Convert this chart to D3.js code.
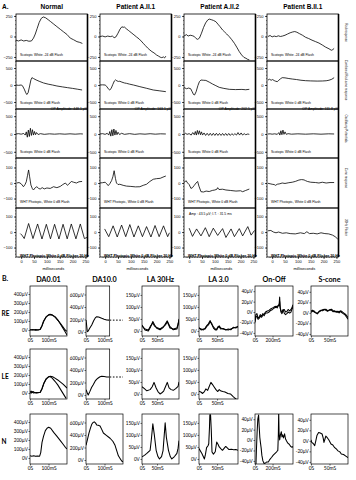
<!DOCTYPE html>
<html><head><meta charset="utf-8">
<script src="https://cdn.jsdelivr.net/npm/d3@7"></script>
<style>body{margin:0;background:#fff}</style>
</head><body>
<script>
// ---------------- DATA: Part A (full-field ERG, time in ms, amplitude in µV) ----------------
const aColumns = ["Normal", "Patient A.II.1", "Patient A.II.2", "Patient B.II.1"];
const aRowNames = ["Rod response", "Combined Rod-cone response", "Oscillatory Potentials", "Cone response", "30Hz Flicker"];
const aRowNotes = ["Scotopic  White -24 dB Flash", "Scotopic  White 0 dB Flash", "Scotopic  White 0 dB Flash", "WHT Photopic,  White 0 dB Flash", "WHT Photopic  White 0 dB Flicker 30 Hz"];
const opAmplitudes = ["OP Amplitude: 448.1 µV", "OP Amplitude: 163.1 µV", "OP Amplitude: 202.5 µV", "OP Amplitude: 111.8 µV"];
const flickerNote = "Amp : 43.5 µV; I.T. : 31.5 ms";
const aTimeTicks = [0, 50, 100, 150, 200, 250];
const aYTicks = [[-250, 0, 250], [-500, 0, 500], [-500, 0, 500], [-100, 0, 100], [-100, 0, 100]];

const rodNormal = [[-20,-45],[-10,-55],[0,-42],[10,-55],[20,-48],[30,-58],[40,-55],[48,-20],[55,30],[62,95],[70,170],[78,220],[86,238],[95,228],[105,205],[115,180],[127,150],[139,120],[152,88],[165,56],[178,25],[191,-20],[204,-40],[217,-63],[228,-72],[238,-85]];
const rodA21 = [[-20,0],[-10,5],[0,-5],[10,5],[20,-2],[28,5],[35,-15],[42,-5],[50,40],[58,90],[65,118],[70,112],[75,115],[82,95],[90,75],[96,60],[104,40],[112,20],[122,-6],[132,-30],[140,-55],[148,-83],[156,-110],[165,-140],[174,-165],[182,-185],[190,-200],[200,-226],[208,-240],[214,-252],[220,-258],[227,-250],[231,-262],[236,-240]];
const rodA22 = [[-26,18],[-18,10],[-10,22],[-4,5],[4,15],[12,10],[20,0],[27,-25],[33,-35],[40,-20],[48,40],[56,110],[64,165],[72,200],[78,212],[86,205],[95,195],[104,180],[112,150],[120,120],[130,79],[138,55],[146,30],[156,-2],[166,-40],[176,-83],[185,-130],[195,-185],[204,-225],[213,-255],[221,-266],[228,-280],[234,-285]];
const rodB21 = [[-16,0],[-8,12],[0,-5],[8,5],[16,-2],[24,8],[32,0],[40,5],[50,15],[60,30],[70,45],[80,55],[88,60],[96,52],[106,35],[118,15],[130,-10],[142,-25],[155,-45],[169,-63],[182,-80],[195,-104],[208,-130],[221,-150],[230,-168],[236,-160],[241,-145]];

const combNormal = [[-20,0],[-10,-10],[0,0],[5,-20],[12,-120],[18,-230],[22,-280],[27,-230],[33,-30],[38,150],[42,216],[48,190],[58,150],[70,110],[87,60],[105,25],[122,0],[139,-29],[160,-55],[180,-78],[200,-100],[220,-125],[237,-147]];
const combA21 = [[-21,0],[-10,5],[0,0],[6,-40],[12,-110],[18,-150],[24,-90],[30,20],[36,120],[40,150],[46,120],[52,105],[57,110],[65,85],[75,60],[83,49],[95,25],[110,0],[135,-49],[160,-95],[187,-147],[210,-170],[236,-196]];
const combA22 = [[-26,-98],[-18,-80],[-10,-110],[-2,-90],[6,-110],[12,-200],[17,-280],[21,-294],[27,-200],[34,-20],[40,100],[46,147],[55,140],[65,135],[78,85],[91,29],[104,-20],[117,-69],[135,-100],[156,-127],[180,-135],[205,-130],[220,-140],[234,-127]];
const combB21 = [[-16,147],[-10,170],[-4,140],[2,160],[8,130],[14,110],[20,98],[26,140],[32,180],[39,216],[50,210],[65,190],[78,176],[95,160],[112,140],[130,127],[150,120],[175,115],[195,118],[210,125],[221,140],[232,170],[241,216]];

const opNormal = [[-20,0],[-10,10],[0,-5],[10,15],[16,-30],[20,60],[24,-90],[28,110],[32,-70],[36,160],[40,-40],[44,120],[48,-30],[52,70],[56,-20],[60,40],[66,-15],[75,10],[90,-10],[110,5],[130,-5],[150,5],[170,-5],[190,5],[210,-5],[230,5],[240,0]];
const opA21 = [[-20,0],[-10,10],[0,-10],[8,20],[14,-30],[18,70],[22,-60],[26,120],[30,-50],[34,140],[38,-30],[42,100],[46,-20],[50,50],[56,-15],[64,20],[75,-10],[95,10],[115,-10],[135,5],[155,-5],[175,8],[195,-5],[215,5],[236,0]];
const opA22 = [[-26,10],[-20,-20],[-14,20],[-8,-10],[0,10],[8,-30],[14,40],[20,-20],[24,70],[28,-30],[32,100],[36,-10],[40,90],[44,-20],[48,60],[52,-30],[58,30],[64,-40],[70,20],[76,-40],[82,20],[88,-40],[94,20],[100,-40],[106,20],[112,-40],[118,15],[124,-40],[130,15],[136,-40],[142,15],[148,-40],[154,15],[160,-40],[166,10],[172,-30],[178,10],[184,-30],[190,40],[196,-30],[202,30],[208,-30],[214,10],[220,-20],[228,0],[234,-10]];
const opB21 = [[-16,0],[-8,5],[0,-5],[10,5],[20,-10],[26,40],[30,-30],[34,90],[38,-20],[42,110],[46,-10],[50,60],[55,-10],[62,10],[75,-5],[100,5],[130,-5],[160,5],[190,-5],[220,5],[241,0]];

const coneNormal = [[-17,0],[-8,3],[0,-5],[9,-24],[15,-10],[20,8],[25,50],[29,84],[33,40],[38,-13],[44,-38],[48,-45],[55,-30],[61,-24],[68,-35],[74,-39],[82,-30],[90,-38],[100,-32],[113,-35],[126,-24],[139,-30],[152,-22],[162,-10],[172,0],[180,-15],[185,-8],[195,10],[204,5],[215,0],[225,8],[237,10]];
const coneA21 = [[-21,0],[-10,2],[0,5],[6,-5],[12,-17],[18,-5],[25,15],[30,40],[35,79],[40,30],[44,0],[50,-10],[57,-8],[70,-15],[83,-20],[100,-22],[118,-25],[135,-24],[148,-15],[161,-8],[174,10],[187,24],[200,28],[214,30],[225,38],[236,45]];
const coneA22 = [[-26,11],[-18,5],[-12,15],[-6,0],[0,-10],[7,-35],[13,-30],[20,-15],[27,0],[33,10],[38,-20],[46,-56],[56,-58],[66,-52],[78,-55],[90,-48],[100,-45],[108,-40],[111,-30],[116,-42],[130,-40],[143,-45],[160,-48],[182,-52],[200,-50],[208,-56],[220,-48],[234,-39]];
const coneB21 = [[-16,-2],[-8,-5],[0,-8],[8,-10],[13,-15],[20,-8],[30,-5],[39,0],[50,-3],[65,2],[78,5],[90,10],[104,19],[114,22],[124,20],[130,15],[137,10],[150,5],[169,3],[182,0],[195,5],[210,0],[225,3],[241,3]];

const flickNormal = [[-3,-10],[3,-20],[12,-42],[29,55],[46,-42],[64,52],[81,-45],[98,50],[114,-44],[130,50],[147,-45],[163,50],[179,-44],[195,52],[213,-44],[230,52],[246,-42],[256,-35]];
const flickA21 = [[-2,20],[14,-30],[31,40],[47,-32],[64,45],[80,-30],[96,48],[112,-32],[129,40],[145,-30],[161,35],[178,-32],[194,42],[210,-30],[227,40],[243,-30],[250,-5]];
const flickA22 = [[0,25],[13,-28],[29,20],[46,-25],[63,28],[78,-30],[94,25],[111,-22],[130,22],[143,-35],[163,20],[176,-30],[195,22],[208,-25],[228,35],[241,-20],[254,10]];
const flickB21 = [[-16,8],[-5,10],[5,0],[15,-5],[25,0],[40,-8],[55,-5],[70,-10],[90,-12],[110,-5],[125,-10],[135,2],[145,-10],[160,-8],[175,-12],[190,-5],[205,-10],[220,-12],[235,-20],[245,-30],[255,-45]];

// ---------------- DATA: Part B ----------------
const bColumns = ["DA0.01", "DA10.0", "LA 30Hz", "LA 3.0", "On-Off", "S-cone"];
const bRows = ["RE", "LE", "N"];
const bYTicks = [[0,100,200,300,400],[0,200,400,600],[0,50,100,150],[0,50,100,150],[-40,-20,0,20,40],[-40,-20,0,20,40]];
const bXTick = [100, 100, 50, 50, 200, 50];
const bXTickLabel = ["100mS", "100mS", "50mS", "50mS", "200mS", "50mS"];

const daLowRE1 = [[0,0],[15,5],[30,-2],[45,0],[55,8],[65,50],[72,93],[85,140],[100,168],[108,174],[120,168],[135,148],[150,112],[162,74],[175,30],[189,-18],[200,-55]];
const daLowRE2 = [[0,3],[15,0],[30,5],[45,3],[55,5],[65,45],[75,100],[88,148],[100,165],[110,170],[122,163],[137,140],[152,105],[165,70],[178,35],[190,0],[200,-15]];
const daLowLE1 = [[0,10],[6,20],[12,5],[18,15],[25,3],[35,5],[45,2],[55,8],[65,50],[75,110],[88,160],[100,180],[110,186],[122,180],[135,165],[150,145],[165,120],[180,95],[200,55]];
const daLowLE2 = [[0,5],[6,-2],[12,15],[18,0],[25,5],[35,0],[45,5],[55,5],[65,45],[75,105],[88,155],[100,178],[108,182],[120,165],[135,130],[150,90],[165,40],[180,-10],[195,-60]];
const daLowN = [[0,26],[10,20],[20,25],[30,18],[40,22],[52,20],[58,60],[65,174],[73,240],[83,304],[92,330],[101,341],[112,330],[128,285],[146,240],[164,193],[180,150],[191,119],[200,100]];

const daHighRE = [[0,192],[3,120],[7,5],[12,15],[20,60],[31,112],[42,185],[50,225],[58,245],[68,240],[78,228],[85,219],[98,205],[112,192],[125,190]];
const daHighLE = [[0,85],[6,40],[12,0],[20,50],[30,120],[39,165],[50,225],[60,258],[66,272],[76,292],[85,300],[98,295],[112,288],[125,288]];
const daHighTail = [190, 288];   // level of the dashed continuation (RE, LE)
const daHighN = [[0,235],[8,330],[16,430],[24,510],[31,571],[38,600],[45,610],[52,590],[58,560],[66,555],[76,543],[85,490],[94,432],[110,395],[130,348],[145,300],[157,235],[166,150],[175,67],[185,20],[193,-17],[200,-30]];

const la30RE1 = [[0,25],[10,4],[21,0],[28,15],[36,39],[42,25],[49,11],[60,5],[71,15],[78,30],[84,42],[93,18],[104,5],[116,8],[120,25],[123,45]];
const la30RE2 = [[0,20],[10,8],[21,4],[28,20],[36,33],[42,20],[49,14],[60,8],[71,18],[78,25],[84,38],[93,12],[104,8],[116,12],[120,30],[123,50]];
const la30LE = [[0,30],[8,22],[16,13],[27,18],[34,30],[40,48],[47,25],[53,10],[60,0],[66,5],[72,12],[78,30],[84,48],[90,25],[97,18],[104,15],[112,22],[120,32],[123,50]];
const la30N = [[0,9],[8,15],[16,23],[27,36],[31,80],[36,146],[41,100],[47,36],[53,10],[58,0],[65,10],[70,35],[74,100],[77,150],[81,90],[88,36],[94,10],[99,0],[108,10],[116,23],[120,45],[123,76]];

const la3RE1 = [[0,11],[6,8],[12,4],[17,12],[21,21],[26,30],[31,43],[35,28],[40,17],[45,8],[49,4],[53,15],[56,21],[60,12],[67,8],[74,6],[81,4],[88,8],[95,12],[102,15],[108,17]];
const la3RE2 = [[0,14],[6,4],[12,8],[17,8],[21,18],[26,25],[31,38],[35,32],[40,12],[45,4],[49,8],[53,18],[56,17],[60,8],[67,10],[74,4],[81,8],[88,5],[95,15],[102,12],[108,20]];
const la3LE = [[0,11],[5,8],[10,2],[15,10],[19,21],[24,15],[28,30],[33,48],[38,38],[42,29],[47,18],[52,10],[56,18],[61,12],[66,10],[72,8],[80,2],[87,0],[94,-10],[100,-18],[105,-24]];
const la3N = [[0,43],[8,23],[15,0],[18,20],[21,47],[25,55],[27,63],[29,130],[30,184],[32,184],[34,120],[36,29],[40,20],[45,30],[49,70],[53,60],[56,50],[61,42],[65,36],[70,45],[74,52],[79,45],[83,39],[90,40],[96,38],[102,39],[108,36]];

const onOffRE1 = [[0,-15],[10,-5],[22,-3],[35,-12],[48,-9],[60,-5],[75,-8],[90,-3],[104,-7],[120,-2],[140,-2],[160,0],[178,3],[200,5],[220,8],[240,9],[252,8],[265,12],[275,15],[281,29],[286,12],[295,0],[307,-3],[320,3],[333,5],[348,0],[363,1],[378,5],[395,2],[410,5],[420,8],[433,14]];
const onOffRE2 = [[0,-20],[10,-10],[22,-8],[35,-14],[48,-12],[60,-8],[75,-10],[90,-6],[104,-4],[120,0],[140,2],[160,3],[178,6],[200,8],[220,10],[240,11],[252,10],[265,13],[275,12],[281,20],[286,8],[295,3],[307,0],[320,5],[333,-2],[348,-5],[363,-3],[378,0],[395,-2],[410,0],[420,5],[433,10]];
const onOffN = [[0,-50],[10,-52],[16,-20],[24,15],[32,40],[41,48],[48,25],[55,5],[62,-5],[70,-15],[78,-29],[90,-40],[104,-45],[120,-44],[135,-42],[152,-42],[170,-37],[190,-33],[208,-29],[226,-26],[244,-23],[260,-20],[266,10],[270,55],[274,15],[281,0],[290,10],[300,16],[307,6],[315,10],[325,4],[337,12],[348,2],[360,-2],[374,-6],[390,-8],[405,-12],[422,-14],[433,-12]];

const sConeRE1 = [[0,1],[4,3],[8,4],[12,1],[17,-2],[22,2],[27,4],[31,6],[36,7],[40,5],[45,3],[50,6],[55,7],[60,4],[64,2],[68,3],[72,1],[76,3],[80,2],[84,0],[88,-2],[92,-4],[96,-8],[100,-12]];
const sConeRE2 = [[0,3],[4,5],[8,2],[12,0],[17,-1],[22,3],[27,5],[31,4],[36,6],[40,7],[45,4],[50,5],[55,5],[60,2],[64,4],[68,1],[72,3],[76,0],[80,4],[84,2],[88,0],[92,-2],[96,-5],[100,-9]];
const sConeN = [[0,2],[2,-3],[6,-5],[10,-9],[13,0],[16,10],[19,14],[21,16],[25,15],[30,13],[33,5],[35,-3],[38,4],[40,9],[44,6],[48,2],[54,-6],[59,-8],[64,-13],[68,-15],[73,-19],[78,-21],[82,-25],[88,-26],[94,-29],[100,-32]];

// ---------------- LAYOUT ----------------
const aTraces = [
  [rodNormal, rodA21, rodA22, rodB21],
  [combNormal, combA21, combA22, combB21],
  [opNormal, opA21, opA22, opB21],
  [coneNormal, coneA21, coneA22, coneB21],
  [flickNormal, flickA21, flickA22, flickB21]
];
const bTraces = [
  [[daLowRE1, daLowRE2], [daHighRE], [la30RE1, la30RE2], [la3RE1, la3RE2], [onOffRE1, onOffRE2], [sConeRE1, sConeRE2]],
  [[daLowLE1, daLowLE2], [daHighLE], [la30LE], [la3LE], null, null],
  [[daLowN], [daHighN], [la30N], [la3N], [onOffN], [sConeN]]
];

const svg = d3.select("body").append("svg").attr("width", 356).attr("height", 480).style("background", "#fff");
const defs = svg.append("defs");
const fA = "'Liberation Sans', Arial, sans-serif";
const fB = "Lato, 'Open Sans', sans-serif";
let clipId = 0;
function clip(x0, y0, w, h) {
  const id = "c" + (clipId++);
  defs.append("clipPath").attr("id", id).append("rect").attr("x", x0).attr("y", y0).attr("width", w).attr("height", h);
  return "url(#" + id + ")";
}

// ---------- Part A ----------
svg.append("text").attr("x", 2).attr("y", 9).attr("font-family", fA).attr("font-weight", "bold").attr("font-size", 6.5).text("A.");
const aColLeft = [16, 100, 184, 267], aColW = 71.5;
const aRowY = [14, 61, 109, 158, 208, 257];
const aYDom = [[-299, 274], [-706, 706], [-674, 702], [-161, 161], [-161, 155]];
const aMinor = [50, 100, 100, 20, 20];
const aXDom = [-20, 258];

aColumns.forEach((name, c) => {
  const x0 = aColLeft[c], x1 = x0 + aColW;
  const x = d3.scaleLinear().domain(aXDom).range([x0, x1]);
  svg.append("text").attr("x", (x0 + x1) / 2).attr("y", 9).attr("text-anchor", "middle")
    .attr("font-family", fA).attr("font-weight", "bold").attr("font-size", 6.5).text(name);
  aRowNames.forEach((rn, r) => {
    const top = aRowY[r], bot = aRowY[r + 1];
    const y = d3.scaleLinear().domain(aYDom[r]).range([bot, top]);
    const g = svg.append("g");
    const d = aYDom[r];
    const minors = d3.range(Math.ceil(d[0] / aMinor[r]) * aMinor[r], d[1], aMinor[r]);
    g.append("g").attr("transform", `translate(${x0},0)`)
      .call(d3.axisLeft(y).tickValues(minors).tickSize(1).tickFormat(""))
      .call(s => s.select(".domain").remove())
      .selectAll("line").attr("stroke-width", 0.5);
    g.append("g").attr("transform", `translate(${x0},0)`)
      .call(d3.axisLeft(y).tickValues(aYTicks[r]).tickSize(2).tickPadding(1.5).tickFormat(d3.format("d")))
      .call(s => s.select(".domain").remove())
      .call(s => s.selectAll("text").attr("font-size", 4).attr("font-family", fA))
      .selectAll("line").attr("stroke-width", 0.7);
    g.append("path").datum(aTraces[r][c]).attr("clip-path", clip(x0, top, aColW, bot - top))
      .attr("fill", "none").attr("stroke", "#000").attr("stroke-width", 0.8).attr("stroke-linejoin", "round")
      .attr("d", d3.line().x(p => x(p[0])).y(p => y(p[1])));
    g.append("rect").attr("x", x0).attr("y", top).attr("width", aColW).attr("height", bot - top)
      .attr("fill", "none").attr("stroke", "#000").attr("stroke-width", 0.8);
    g.append("text").attr("x", x0 + 4).attr("y", bot - (r === 4 ? 0 : 5)).attr("font-family", fA)
      .attr("font-size", r === 4 ? 3.7 : 3.4).attr("font-weight", r === 4 ? "bold" : "normal").text(aRowNotes[r]);
    if (r === 1) {
      g.append("text").attr("x", x1 - 0.5).attr("y", bot + 1.2).attr("text-anchor", "end")
        .attr("font-family", fA).attr("font-size", 3.4).text(opAmplitudes[c]);
    }
    if (r === 4 && c === 2) {
      g.append("text").attr("x", x0 + 5).attr("y", top + 7).attr("font-family", fA).attr("font-size", 3.4).text(flickerNote);
    }
  });
  svg.append("line").attr("x1", x1).attr("x2", x1).attr("y1", aRowY[0]).attr("y2", aRowY[5])
    .attr("stroke", "#000").attr("stroke-width", 1.6);
  const bx = svg.append("g").attr("transform", `translate(0,${aRowY[5]})`);
  bx.append("g").call(d3.axisBottom(x).tickValues(d3.range(-10, 258, 10)).tickSize(1).tickFormat(""))
    .call(s => s.select(".domain").remove()).selectAll("line").attr("stroke-width", 0.5);
  bx.append("g").call(d3.axisBottom(x).tickValues(aTimeTicks).tickSize(2).tickPadding(1))
    .call(s => s.select(".domain").remove())
    .call(s => s.selectAll("text").attr("font-size", 4).attr("font-family", fA))
    .selectAll("line").attr("stroke-width", 0.7);
  svg.append("text").attr("x", x(125)).attr("y", 269.5).attr("text-anchor", "middle")
    .attr("font-family", fA).attr("font-size", 4).text("milliseconds");
});
aRowNames.forEach((rn, r) => {
  const cy = (aRowY[r] + aRowY[r + 1]) / 2 - 5;
  svg.append("text").attr("transform", `translate(345,${cy}) rotate(90)`).attr("text-anchor", "middle")
    .attr("font-family", fA).attr("font-size", 3).text(rn);
});

// ---------- Part B ----------
svg.append("text").attr("x", 2).attr("y", 281).attr("font-family", fB).attr("font-weight", "bold").attr("font-size", 7).text("B.");
const bLeft = [30, 86, 142, 199, 255, 311], bRight = [67, 123, 179, 238, 293, 348];
const bTop = [286, 349, 414], bH = 50;
const bYDom = [[-67, 489], [-64, 736], [-21, 187], [-21, 187], [-46, 50], [-44, 51]];
const bXDom = [[0, 200], [0, 200], [0, 123], [0, 108], [0, 433], [0, 100]];
const bLabY = [316, 379, 444];

bColumns.forEach((name, c) => {
  svg.append("text").attr("x", (bLeft[c] + bRight[c]) / 2).attr("y", 282).attr("text-anchor", "middle")
    .attr("font-family", fB).attr("font-weight", "bold").attr("font-size", 7.2).text(name);
});
bRows.forEach((rn, r) => {
  svg.append("text").attr("x", 1.5).attr("y", bLabY[r]).attr("font-family", fB).attr("font-weight", "bold")
    .attr("font-size", 6.5).text(rn);
  bColumns.forEach((cn, c) => {
    const tr = bTraces[r][c];
    if (!tr) return;
    const x0 = bLeft[c];
    const x = d3.scaleLinear().domain(bXDom[c]).range([bLeft[c], bRight[c]]);
    const top = bTop[r], bot = top + bH;
    const y = d3.scaleLinear().domain(bYDom[c]).range([bot, top]);
    const narrow = (c === 1 && r < 2);
    const xr = narrow ? x(128) : bRight[c];
    const g = svg.append("g");
    g.append("g").attr("transform", `translate(${x0},0)`)
      .call(d3.axisLeft(y).tickValues(bYTicks[c]).tickSize(1.5).tickPadding(0.8)
        .tickFormat(v => v === 0 ? "0V" : v + "µV"))
      .call(s => s.select(".domain").remove())
      .call(s => s.selectAll("text").attr("font-size", 4.7).attr("font-family", fB).attr("letter-spacing", -0.1))
      .selectAll("line").attr("stroke-width", 0.6);
    g.append("g").attr("transform", `translate(0,${bot})`)
      .call(d3.axisBottom(x).tickValues([0, bXTick[c]]).tickSize(1.5).tickPadding(1)
        .tickFormat((v, i) => i === 0 ? "0S" : bXTickLabel[c]))
      .call(s => s.select(".domain").remove())
      .call(s => s.selectAll("text").attr("font-size", 4.9).attr("font-family", fB))
      .selectAll("line").attr("stroke-width", 0.6);
    const cp = clip(x0, top, xr - x0, bH);
    tr.forEach(series => {
      g.append("path").datum(series).attr("clip-path", cp)
        .attr("fill", "none").attr("stroke", "#000").attr("stroke-width", 1.05).attr("stroke-linejoin", "round")
        .attr("d", d3.line().x(p => x(p[0])).y(p => y(p[1])));
    });
    if (narrow) {
      g.append("line").attr("x1", x(128)).attr("x2", x(200)).attr("y1", y(daHighTail[r])).attr("y2", y(daHighTail[r]))
        .attr("stroke", "#000").attr("stroke-width", 1).attr("stroke-dasharray", "1.6,1.6");
    }
    g.append("rect").attr("x", x0).attr("y", top).attr("width", xr - x0).attr("height", bH)
      .attr("fill", "none").attr("stroke", "#000").attr("stroke-width", 0.7);
  });
});
</script>
</body></html>
